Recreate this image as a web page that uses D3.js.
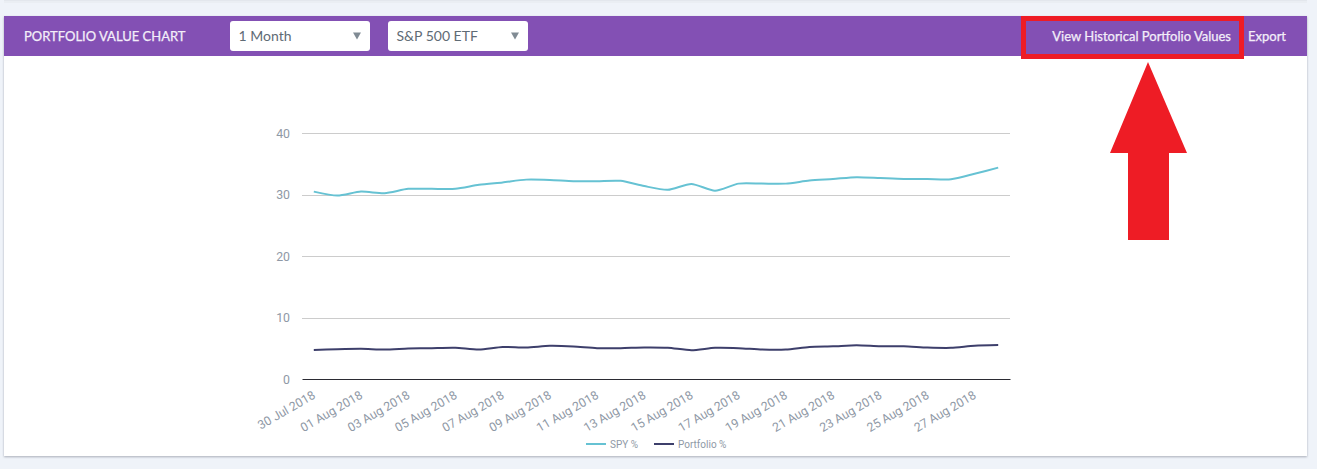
<!DOCTYPE html>
<html>
<head>
<meta charset="utf-8">
<script src="https://cdn.jsdelivr.net/npm/d3@7"></script>
<style>
  html, body { margin: 0; padding: 0; background: #eff3f9; overflow: hidden; }
  svg { display: block; }
  .axis text { font-family: Roboto, sans-serif; font-size: 12.3px; fill: #8f99a6; }
  .head { font-family: Lato, sans-serif; font-size: 13px; fill: #f3eef9; stroke: #f3eef9; stroke-width: 0.25px; }
  .pick { font-family: Lato, sans-serif; font-size: 14px; fill: #5f6b75; }
  .legend { font-family: Roboto, sans-serif; font-size: 10px; fill: #8f99a6; }
</style>
</head>
<body>
<script>
// Chart data
const dates = [
  "30 Jul 2018", "31 Jul 2018", "01 Aug 2018", "02 Aug 2018", "03 Aug 2018", "04 Aug 2018",
  "05 Aug 2018", "06 Aug 2018", "07 Aug 2018", "08 Aug 2018", "09 Aug 2018", "10 Aug 2018",
  "11 Aug 2018", "12 Aug 2018", "13 Aug 2018", "14 Aug 2018", "15 Aug 2018", "16 Aug 2018",
  "17 Aug 2018", "18 Aug 2018", "19 Aug 2018", "20 Aug 2018", "21 Aug 2018", "22 Aug 2018",
  "23 Aug 2018", "24 Aug 2018", "25 Aug 2018", "26 Aug 2018", "27 Aug 2018", "28 Aug 2018"
];
const spy = [
  30.55, 29.9, 30.55, 30.3, 31.0, 31.0, 31.0, 31.65, 32.05, 32.5,
  32.45, 32.25, 32.25, 32.3, 31.45, 30.85, 31.8, 30.7, 31.85, 31.85,
  31.85, 32.35, 32.6, 32.9, 32.75, 32.6, 32.6, 32.55, 33.45, 34.45
];
const portfolio = [
  4.8, 4.93, 5.0, 4.87, 5.03, 5.1, 5.15, 4.87, 5.3, 5.2,
  5.47, 5.37, 5.1, 5.1, 5.2, 5.15, 4.77, 5.15, 5.1, 4.87,
  4.87, 5.3, 5.4, 5.57, 5.4, 5.4, 5.2, 5.15, 5.5, 5.6
];
const yTicks = [0, 10, 20, 30, 40];
const xTicks = dates.filter((d, i) => i % 2 === 0 && i < 29);
const legendItems = [
  { name: "SPY %", color: "#66c2d3", values: spy },
  { name: "Portfolio %", color: "#3d3f6b", values: portfolio }
];

const svg = d3.select("body").append("svg").attr("width", 1317).attr("height", 469);

// Drop shadow for the card
const shadow = svg.append("defs").append("filter").attr("id", "shadow")
  .attr("x", "-2%").attr("y", "-2%").attr("width", "104%").attr("height", "104%");
shadow.append("feDropShadow").attr("dx", 0).attr("dy", 1).attr("stdDeviation", 1.2)
  .attr("flood-color", "#8a8f9c").attr("flood-opacity", 0.7);

// Edge of the card above, then the chart card
svg.append("rect").attr("x", 4).attr("y", 0).attr("width", 1303).attr("height", 1).attr("fill", "#e3e7ed");
svg.append("rect").attr("x", 4).attr("y", 1).attr("width", 1303).attr("height", 2).attr("fill", "#eaeef3");
svg.append("rect").attr("x", 4).attr("y", 16).attr("width", 1303).attr("height", 440)
  .attr("fill", "#fff").attr("filter", "url(#shadow)");

// Header bar
svg.append("rect").attr("x", 4).attr("y", 16).attr("width", 1303).attr("height", 40).attr("fill", "#8350b4");
svg.append("text").attr("class", "head").attr("x", 24).attr("y", 41).text("PORTFOLIO VALUE CHART");
svg.append("text").attr("class", "head").attr("x", 1231).attr("y", 41).attr("text-anchor", "end")
  .text("View Historical Portfolio Values");
svg.append("text").attr("class", "head").attr("x", 1248).attr("y", 41).text("Export");

// Two dropdowns
[{ x: 230, label: "1 Month" }, { x: 388, label: "S&P 500 ETF" }].forEach(p => {
  svg.append("rect").attr("x", p.x).attr("y", 21).attr("width", 140).attr("height", 30).attr("rx", 3).attr("fill", "#fff");
  svg.append("text").attr("class", "pick").attr("x", p.x + 8.5).attr("y", 41).text(p.label);
  svg.append("path").attr("fill", "#808b94")
    .attr("d", `M${p.x + 123},32.5 h8 l-4,7 z`);
});

// Scales and axes
const x = d3.scaleBand().domain(dates).range([302, 1010]);
const y = d3.scaleLinear().domain([0, 40]).range([379.5, 133.5]);

const yAxis = svg.append("g").attr("class", "axis")
  .attr("transform", "translate(302,0)")
  .call(d3.axisLeft(y).tickValues(yTicks).tickSize(0).tickPadding(12));
yAxis.select(".domain").remove();

svg.append("g").selectAll("line").data(yTicks.filter(d => d > 0)).join("line")
  .attr("x1", 302).attr("x2", 1010)
  .attr("y1", d => Math.floor(y(d)) + 0.5).attr("y2", d => Math.floor(y(d)) + 0.5)
  .attr("stroke", "#cccccc").attr("stroke-width", 1);

const xAxis = svg.append("g").attr("class", "axis")
  .attr("transform", "translate(0,379)")
  .call(d3.axisBottom(x).tickValues(xTicks).tickSize(0).tickSizeOuter(0));
xAxis.select(".domain").attr("stroke", "#2b2b33").attr("stroke-width", 1);
xAxis.selectAll("text")
  .attr("text-anchor", "end")
  .attr("dy", 0)
  .attr("transform", "translate(1,16) rotate(-30)");

// Lines
const line = d3.line()
  .x((d, i) => x(dates[i]) + x.bandwidth() / 2)
  .y(d => y(d))
  .curve(d3.curveCardinal.tension(0.3));

svg.append("g").selectAll("path").data(legendItems).join("path")
  .attr("fill", "none")
  .attr("stroke", d => d.color)
  .attr("stroke-width", 2)
  .attr("d", d => line(d.values));

// Legend
const legend = svg.append("g").selectAll("g").data(legendItems).join("g")
  .attr("transform", (d, i) => `translate(${586 + i * 68},444)`);
legend.append("line").attr("x1", 0).attr("x2", 20).attr("stroke", d => d.color).attr("stroke-width", 2);
legend.append("text").attr("class", "legend").attr("x", 24).attr("y", 3.5).text(d => d.name);

// Red call-out drawn over the screenshot
svg.append("rect").attr("x", 1023.5).attr("y", 18.5).attr("width", 218).attr("height", 38)
  .attr("fill", "none").attr("stroke", "#ee1c25").attr("stroke-width", 5);
svg.append("path").attr("fill", "#ee1c25")
  .attr("d", "M1148,62 L1187,153 H1169 V240 H1128 V153 H1110 Z");
</script>
</body>
</html>
